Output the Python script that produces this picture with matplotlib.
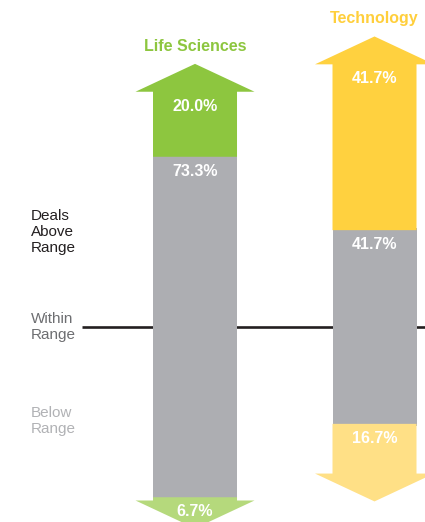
import matplotlib
matplotlib.use("Agg")
import matplotlib.pyplot as plt

plt.rcParams['font.family'] = ['Liberation Sans', 'DejaVu Sans']

# share of deals priced above / within / below range, per sector (%)
sectors = ['Life Sciences', 'Technology']
above = [20.0, 41.7]
within = [73.3, 41.7]
below = [6.7, 16.7]

title_colors = ['#8DC63F', '#FFCF3C']
above_colors = ['#8DC63F', '#FFD13F']
below_colors = ['#B5D97C', '#FFE086']
gray = '#ADAEB2'

shaft_hw = 0.234
head_hw = 0.3315
head_h = 6.0
lbl_off = 4.1

fig = plt.figure(figsize=(4.25, 5.22), dpi=100)
ax = fig.add_axes([0, 0, 1, 1])
ax.set_xlim(-1.0864, 1.2813)
ax.set_ylim(-41.98, 70.4)
ax.axis('off')

# range divider line sits behind the arrows
ax.plot([-0.63, 1.3], [0, 0], color='#231F20', lw=1.9, zorder=1, solid_capstyle='butt')


def arrow(x, start, length, direction, color):
    # shaft plus triangular head drawn as one outline
    end = start + direction * length
    neck = end - direction * head_h
    xs = [x - shaft_hw, x - shaft_hw, x - head_hw, x, x + head_hw, x + shaft_hw, x + shaft_hw]
    ys = [start, neck, neck, end, neck, neck, start]
    ax.fill(xs, ys, color=color, lw=0, zorder=3)


for i, name in enumerate(sectors):
    mid = within[i] / 2
    # within range: gray block centred on the line, tucked a little under the arrows
    g = mid + 0.4
    ax.fill([i - shaft_hw, i + shaft_hw, i + shaft_hw, i - shaft_hw],
            [-g, -g, g, g], color=gray, lw=0, zorder=2)
    arrow(i, mid, above[i], 1, above_colors[i])
    arrow(i, -mid, below[i], -1, below_colors[i])

    top = mid + above[i]
    kw = dict(ha='center', va='baseline', color='white', fontsize=11.5,
              fontweight='bold', zorder=4)
    ax.text(i, top - head_h - lbl_off, f'{above[i]:.1f}%', **kw)
    ax.text(i, mid - lbl_off, f'{within[i]:.1f}%', **kw)
    ax.text(i, -mid - lbl_off, f'{below[i]:.1f}%', **kw)

    ax.text(i, top + 2.8, name, ha='center', va='baseline', color=title_colors[i],
            fontsize=11.5, fontweight='bold')

# row labels on the left
side = dict(transform=fig.transFigure, ha='left', va='center', fontsize=11, linespacing=1.2)
fig.text(31 / 425, 1 - 232 / 522, 'Deals\nAbove\nRange', color='#231F20', **side)
fig.text(31 / 425, 1 - 327 / 522, 'Within\nRange', color='#6D6E71', **side)
fig.text(31 / 425, 1 - 421 / 522, 'Below\nRange', color='#B1B2B5', **side)

fig.savefig('out.png', dpi=100)
